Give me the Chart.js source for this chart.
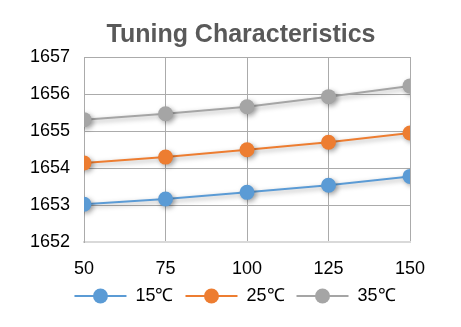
<!DOCTYPE html>
<html>
<head>
<meta charset="utf-8">
<script src="https://cdn.jsdelivr.net/npm/chart.js@4.4.0/dist/chart.umd.min.js"></script>
<style>
html,body{margin:0;padding:0;background:#fff;}
#wrap{width:461px;height:327px;}
</style>
</head>
<body>
<div id="wrap"><canvas id="c" width="461" height="327"></canvas></div>
<script>
const chartTitle = "Tuning Characteristics";
const xValues = [50, 75, 100, 125, 150];
const seriesNames = ["15℃", "25℃", "35℃"];
const series15 = [1653.03, 1653.17, 1653.35, 1653.54, 1653.78];
const series25 = [1654.14, 1654.30, 1654.50, 1654.70, 1654.95];
const series35 = [1655.31, 1655.47, 1655.66, 1655.93, 1656.22];
const colors = ["#5B9BD5", "#ED7D31", "#A5A5A5"];

const allSeries = [series15, series25, series35];
const datasets = allSeries.map((s, i) => ({
  label: seriesNames[i],
  data: s.map((v, j) => ({x: xValues[j], y: v})),
  borderColor: colors[i],
  backgroundColor: colors[i],
  borderWidth: 2,
  pointRadius: 7.5,
  pointHoverRadius: 7.5,
  pointBorderWidth: 0,
  tension: 0
}));

const shadowPlugin = {
  id: 'shadow',
  beforeDatasetsDraw(chart) {
    const ctx = chart.ctx;
    ctx.save();
    ctx.shadowColor = 'rgba(0,0,0,0.35)';
    ctx.shadowBlur = 5;
    ctx.shadowOffsetX = 2;
    ctx.shadowOffsetY = 2;
  },
  afterDatasetsDraw(chart) {
    chart.ctx.restore();
  }
};

// shift title and legend blocks horizontally to match the reference centring
const shiftBlocks = {
  id: 'shiftBlocks',
  afterLayout(chart) {
    const t = chart.titleBlock;
    if (t) { t.left += 28; t.right += 28; }
    const l = chart.legend;
    if (l) { l.left += 22; l.right += 22; }
  }
};

const legendMarkers = {
  id: 'legendMarkers',
  afterDraw(chart) {
    const lg = chart.legend;
    if (!lg || !lg.legendHitBoxes) return;
    const ctx = chart.ctx;
    const bw = lg.options.labels.boxWidth;
    lg.legendHitBoxes.forEach((hb, i) => {
      const cx = hb.left + bw / 2;
      const cy = hb.top + hb.height / 2;
      ctx.save();
      ctx.fillStyle = colors[i];
      ctx.beginPath();
      ctx.arc(cx, cy, 7.5, 0, Math.PI * 2);
      ctx.fill();
      ctx.restore();
    });
  }
};

const tickFont = { family: 'Liberation Sans', size: 18 };

new Chart(document.getElementById('c'), {
  type: 'line',
  data: { datasets },
  plugins: [shadowPlugin, shiftBlocks, legendMarkers],
  options: {
    responsive: false,
    animation: false,
    layout: { padding: { left: 16, right: 51, top: 0, bottom: 12 } },
    plugins: {
      title: {
        display: true,
        text: chartTitle,
        color: '#595959',
        font: { family: 'Liberation Sans', size: 25, weight: 'bold' },
        padding: { top: 20, bottom: 7 }
      },
      legend: {
        display: true,
        position: 'bottom',
        labels: {
          boxWidth: 52,
          boxHeight: 2,
          padding: 12,
          color: '#000',
          font: tickFont,
          generateLabels(chart) {
            return chart.data.datasets.map((d, i) => ({
              text: d.label,
              fillStyle: colors[i],
              strokeStyle: colors[i],
              lineWidth: 0,
              datasetIndex: i,
              hidden: false
            }));
          }
        }
      },
      tooltip: { enabled: false }
    },
    scales: {
      x: {
        type: 'linear',
        min: 50, max: 150,
        afterFit(scale) { scale.height -= 21; },
        ticks: { stepSize: 25, color: '#000', padding: 16, font: tickFont, callback: v => String(v) },
        grid: { color: '#ababab', lineWidth: 1, drawTicks: false },
        border: { color: '#d9d9d9', width: 2 }
      },
      y: {
        min: 1652, max: 1657,
        ticks: { stepSize: 1, color: '#000', padding: 14, font: tickFont, callback: v => String(v) },
        grid: { color: '#ababab', lineWidth: 1, drawTicks: false },
        border: { color: '#ababab', width: 1 }
      }
    }
  }
});
</script>
</body>
</html>
